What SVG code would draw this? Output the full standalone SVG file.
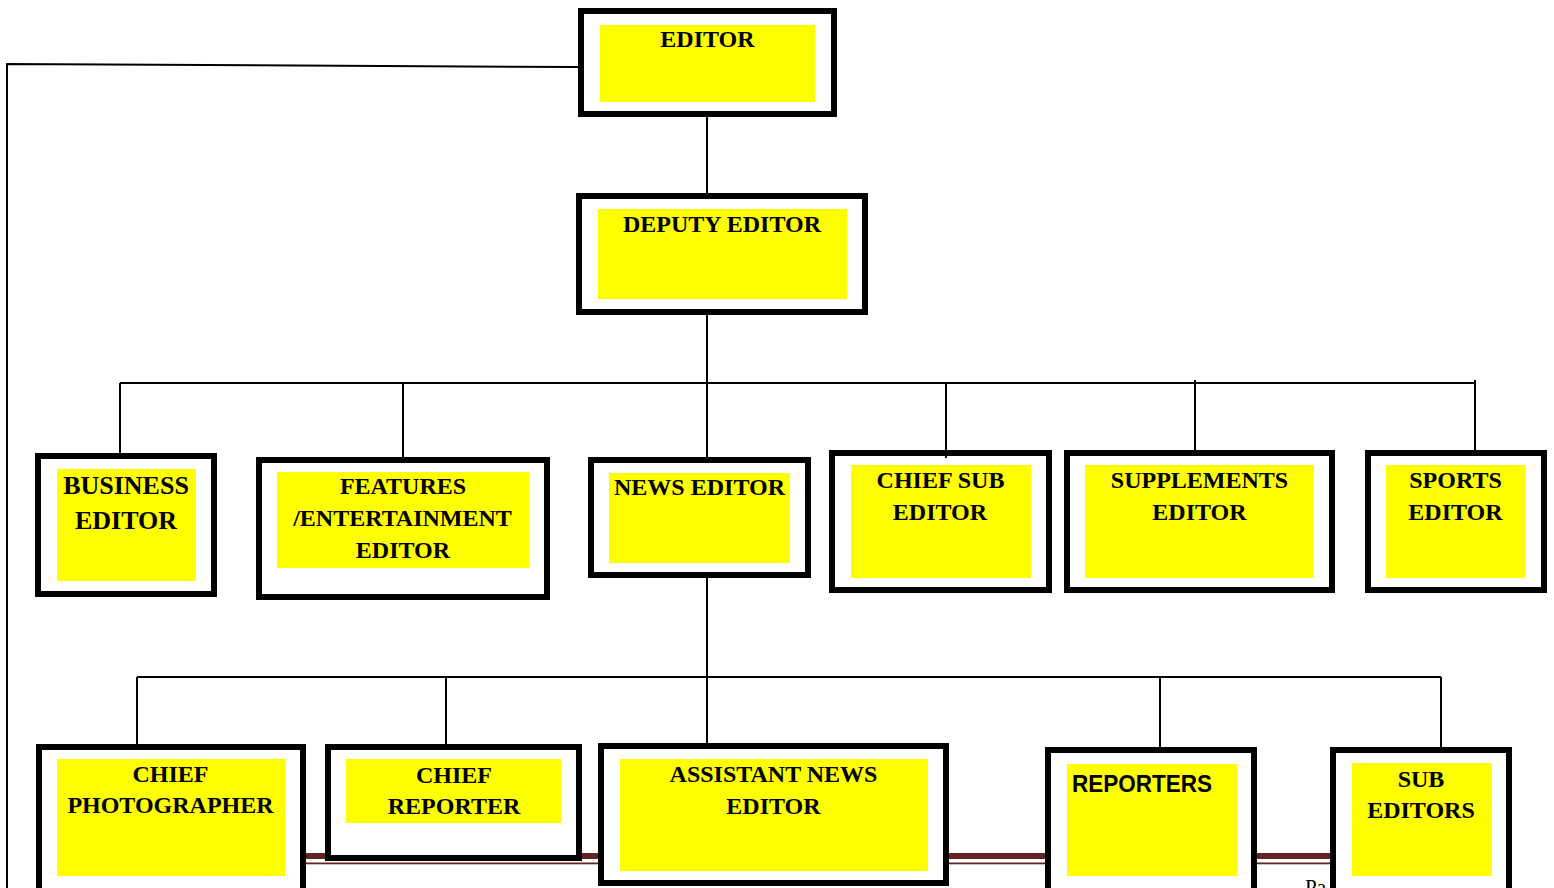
<svg xmlns="http://www.w3.org/2000/svg" width="1554" height="888" viewBox="0 0 1554 888">
<style>
.box{fill:#ffffff;stroke:#000000;stroke-width:6}
.hl{fill:#ffff00}
.t{font-family:"Liberation Serif","Times New Roman",serif;font-weight:bold;font-size:24px;fill:#000000;text-anchor:middle}
.big{font-size:26px}
.sans{font-family:"Liberation Sans",Arial,sans-serif;font-weight:bold;font-size:23px;text-anchor:start}
.c{fill:none;stroke:#000000;stroke-width:2}
.brown{fill:#632423}
</style>
<rect width="1554" height="888" fill="#ffffff"/>
<g id="footer">
<rect class="brown" x="300" y="853" width="1035" height="6"/>
<rect class="brown" x="300" y="862.5" width="1035" height="1.8"/>
<text x="1305" y="894" font-family="Liberation Serif, serif" font-size="21" fill="#000">Pa</text>
</g>
<g id="connectors">
<polyline class="c" points="578,67 7,64 7,888"/>
<line class="c" x1="707" y1="117" x2="707" y2="193"/>
<line class="c" x1="707" y1="315" x2="707" y2="457"/>
<line class="c" x1="120" y1="383" x2="1475" y2="383"/>
<line class="c" x1="120" y1="383" x2="120" y2="453"/>
<line class="c" x1="403" y1="383" x2="403" y2="457"/>
<line class="c" x1="946" y1="383" x2="946" y2="450"/>
<line class="c" x1="1195" y1="380" x2="1195" y2="450"/>
<line class="c" x1="1475" y1="380" x2="1475" y2="450"/>
<line class="c" x1="707" y1="578" x2="707" y2="743"/>
<line class="c" x1="137" y1="677" x2="1441" y2="677"/>
<line class="c" x1="137" y1="677" x2="137" y2="744"/>
<line class="c" x1="446" y1="677" x2="446" y2="744"/>
<line class="c" x1="1160" y1="677" x2="1160" y2="747"/>
<line class="c" x1="1441" y1="677" x2="1441" y2="747"/>
</g>
<g id="editor">
<rect class="box" x="581" y="11" width="253" height="103"/>
<rect class="hl" x="600" y="25" width="215" height="77"/>
<text class="t" x="707.5" y="47">EDITOR</text>
</g>
<g id="deputy-editor">
<rect class="box" x="579" y="196" width="286" height="116"/>
<rect class="hl" x="598" y="209" width="249" height="90"/>
<text class="t" x="722" y="232">DEPUTY EDITOR</text>
</g>
<g id="business-editor">
<rect class="box" x="38" y="456" width="176" height="138"/>
<rect class="hl" x="57" y="469" width="139" height="112"/>
<text class="t big" x="126" y="494">BUSINESS</text>
<text class="t big" x="126" y="529">EDITOR</text>
</g>
<g id="features-editor">
<rect class="box" x="259" y="460" width="288" height="137"/>
<rect class="hl" x="277" y="472" width="252" height="96"/>
<text class="t" x="403" y="494">FEATURES</text>
<text class="t" x="402.5" y="526">/ENTERTAINMENT</text>
<text class="t" x="403" y="558">EDITOR</text>
</g>
<g id="news-editor">
<rect class="box" x="591" y="460" width="217" height="115"/>
<rect class="hl" x="609" y="473" width="181" height="90"/>
<text class="t" x="699.5" y="495">NEWS EDITOR</text>
</g>
<g id="chief-sub-editor">
<rect class="box" x="832" y="453" width="217" height="137"/>
<rect class="hl" x="851" y="465" width="180" height="113"/>
<line class="c" x1="946" y1="450" x2="946" y2="458"/>
<text class="t" x="940.5" y="488">CHIEF SUB</text>
<text class="t" x="940" y="520">EDITOR</text>
</g>
<g id="supplements-editor">
<rect class="box" x="1067" y="453" width="265" height="137"/>
<rect class="hl" x="1085" y="465" width="229" height="113"/>
<text class="t" x="1199.5" y="488">SUPPLEMENTS</text>
<text class="t" x="1199.5" y="520">EDITOR</text>
</g>
<g id="sports-editor">
<rect class="box" x="1368" y="453" width="176" height="137"/>
<rect class="hl" x="1386" y="465" width="139" height="113"/>
<text class="t" x="1455.5" y="488">SPORTS</text>
<text class="t" x="1455.5" y="520">EDITOR</text>
</g>
<g id="chief-photographer">
<rect class="box" x="39" y="747" width="264" height="150"/>
<rect class="hl" x="57" y="759" width="228" height="117"/>
<text class="t" x="170.5" y="782">CHIEF</text>
<text class="t" x="170.5" y="813">PHOTOGRAPHER</text>
</g>
<g id="chief-reporter">
<rect class="box" x="328" y="747" width="251" height="111"/>
<rect class="hl" x="346" y="759" width="215" height="64"/>
<text class="t" x="454" y="783">CHIEF</text>
<text class="t" x="454" y="814">REPORTER</text>
</g>
<g id="assistant-news-editor">
<rect class="box" x="601" y="746" width="345" height="137"/>
<rect class="hl" x="620" y="759" width="308" height="112"/>
<text class="t" x="773.5" y="782">ASSISTANT NEWS</text>
<text class="t" x="773.5" y="814">EDITOR</text>
</g>
<g id="reporters">
<rect class="box" x="1048" y="750" width="206" height="150"/>
<rect class="hl" x="1067" y="764" width="170" height="112"/>
<text class="t sans" x="1072" y="792" textLength="140" lengthAdjust="spacingAndGlyphs">REPORTERS</text>
</g>
<g id="sub-editors">
<rect class="box" x="1333" y="750" width="176" height="150"/>
<rect class="hl" x="1352" y="763" width="140" height="113"/>
<text class="t" x="1421" y="787">SUB</text>
<text class="t" x="1421" y="818">EDITORS</text>
</g>
</svg>
